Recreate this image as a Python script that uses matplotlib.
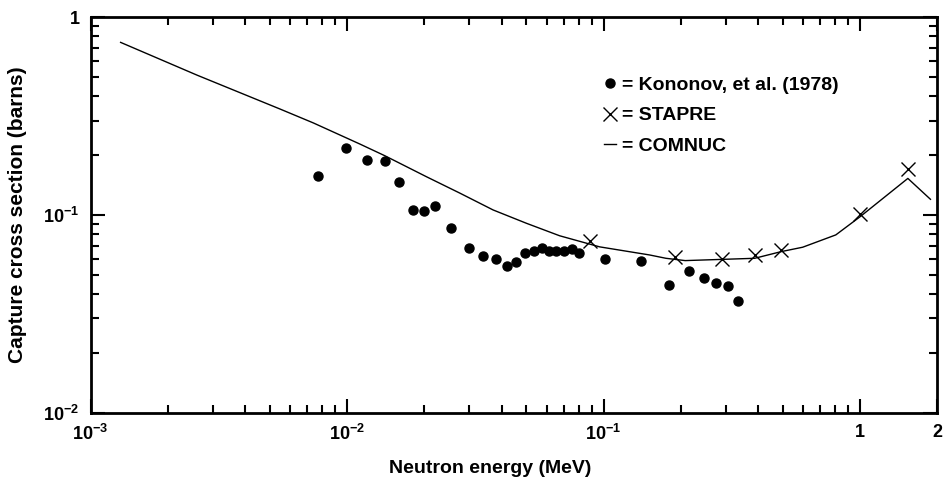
import matplotlib
matplotlib.use("Agg")
import matplotlib.pyplot as plt
from matplotlib.ticker import LogLocator, NullFormatter

plt.rcParams["font.family"] = ["Liberation Sans", "DejaVu Sans"]
plt.rcParams["font.weight"] = "bold"
plt.rcParams["mathtext.fontset"] = "custom"
plt.rcParams["mathtext.rm"] = "Liberation Sans:bold"
plt.rcParams["mathtext.default"] = "rm"

# Kononov et al. (1978) measurements
kononov_e = [0.0077, 0.0099, 0.0120, 0.0141, 0.0159, 0.0181, 0.0200, 0.0221, 0.0255,
             0.0298, 0.0339, 0.0380, 0.0420, 0.0457, 0.0495, 0.0534, 0.0576, 0.0612,
             0.0655, 0.0701, 0.0755, 0.0802, 0.1012, 0.140, 0.180, 0.216, 0.247,
             0.275, 0.306, 0.335]
kononov_s = [0.157, 0.219, 0.190, 0.187, 0.146, 0.1056, 0.105, 0.111, 0.0857,
             0.0684, 0.0623, 0.060, 0.0552, 0.058, 0.0645, 0.066, 0.0681, 0.066,
             0.066, 0.066, 0.0671, 0.0645, 0.0601, 0.0588, 0.0443, 0.0523, 0.0482,
             0.0452, 0.0440, 0.0368]

# STAPRE calculation
stapre_e = [0.0885, 0.189, 0.289, 0.388, 0.493, 1.003, 1.535]
stapre_s = [0.0742, 0.0611, 0.0597, 0.0628, 0.0666, 0.101, 0.170]

# COMNUC calculation
comnuc_e = [0.00131, 0.0026, 0.00548, 0.00738, 0.01124, 0.01406, 0.0204, 0.0275,
            0.0371, 0.050, 0.0674, 0.0965, 0.151, 0.175, 0.208, 0.388, 0.493,
            0.597, 0.804, 1.0, 1.535, 1.88]
comnuc_s = [0.745, 0.509, 0.343, 0.292, 0.228, 0.199, 0.156, 0.129,
            0.106, 0.0908, 0.0785, 0.069, 0.0628, 0.0604, 0.0588, 0.0604, 0.0653,
            0.0687, 0.0793, 0.098, 0.153, 0.12]

xticks = [1e-3, 1e-2, 1e-1, 1, 2]
xlabels = ["10$^{\u22123}$", "10$^{\u22122}$", "10$^{\u22121}$", "1", "2"]
yticks = [1e-2, 1e-1, 1]
ylabels = ["10$^{\u22122}$", "10$^{\u22121}$", "1"]

fig = plt.figure(figsize=(9.43, 4.88), dpi=100)
ax = fig.add_axes([0.096, 0.154, 0.898, 0.811])

ax.plot(comnuc_e, comnuc_s, "-", color="black", lw=1.0, label="= COMNUC")
ax.plot(kononov_e, kononov_s, "o", color="black", ms=6.5, ls="none",
        label="= Kononov, et al. (1978)")
ax.plot(stapre_e, stapre_s, "x", color="black", ms=10, mew=1.0, ls="none",
        label="= STAPRE")

ax.set_xscale("log")
ax.set_yscale("log")
ax.set_xlim(1e-3, 2)
ax.set_ylim(1e-2, 1)

ax.set_xticks(xticks)
ax.set_xticklabels(xlabels)
ax.set_yticks(yticks)
ax.set_yticklabels(ylabels)
ax.xaxis.set_minor_locator(LogLocator(base=10, subs=range(2, 10)))
ax.yaxis.set_minor_locator(LogLocator(base=10, subs=range(2, 10)))
ax.xaxis.set_minor_formatter(NullFormatter())
ax.yaxis.set_minor_formatter(NullFormatter())
ax.tick_params(which="both", direction="in", top=True, right=True, width=1.5,
               labelsize=13, pad=8)
ax.tick_params(which="major", length=10)
ax.tick_params(which="minor", length=6)
for s in ax.spines.values():
    s.set_linewidth(2)

ax.set_xlabel("Neutron energy (MeV)", fontsize=14, fontweight="bold")
ax.xaxis.set_label_coords(0.472, -0.12)
ax.set_ylabel("Capture cross section (barns)", fontsize=15, fontweight="bold")
ax.yaxis.set_label_coords(-0.075, 0.5)

h, l = ax.get_legend_handles_labels()
ax.legend([h[1], h[2], h[0]], [l[1], l[2], l[0]], loc="upper left",
          bbox_to_anchor=(0.586, 0.894), frameon=False, fontsize=14,
          handlelength=0.6, handletextpad=0.3, labelspacing=0.65)

fig.savefig("out.png", dpi=100)
